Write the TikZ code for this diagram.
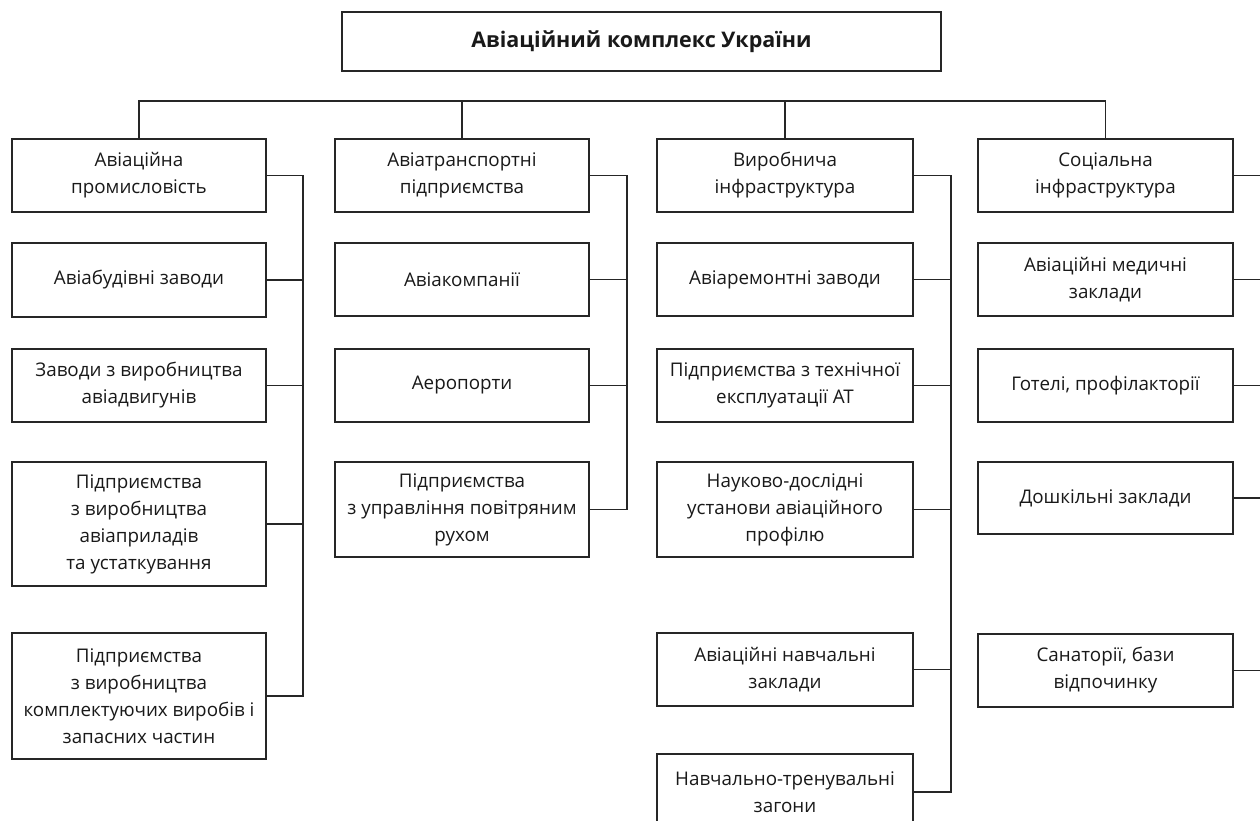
\documentclass[tikz,border=0pt]{standalone}
\usepackage{fontspec}
\setmainfont{Open Sans}
\begin{document}
\begin{tikzpicture}[x=1pt,y=-1pt,
  box/.style={draw=black!85, line width=1.2pt, fill=white, align=center, inner sep=2pt,
    font=\fontsize{18.8}{27}\selectfont, text=black!90},
  wire/.style={draw=black!85, line width=1.2pt}]
\useasboundingbox (0,0) rectangle (1260,821);
\clip (0,0) rectangle (1260,821);
% title
\node[box, minimum width=599pt, minimum height=59pt, font=\fontsize{21.5}{27}\selectfont\bfseries] (top) at (641.5,41.5) {Авіаційний комплекс України};
% column 1
\begin{scope}[every node/.append style={box, minimum width=254pt}]
\node[minimum height=73pt] (a1) at (139,175.5) {Авіаційна\\промисловість};
\node[minimum height=74pt] (a2) at (139,280) {Авіабудівні заводи};
\node[minimum height=73pt] (a3) at (139,385.5) {Заводи з виробництва\\авіадвигунів};
\node[minimum height=124pt] (a4) at (139,524) {Підприємства\\з виробництва\\авіаприладів\\та устаткування};
\node[minimum height=126pt] (a5) at (139,696) {Підприємства\\з виробництва\\комплектуючих виробів і\\запасних частин};
% column 2
\node[minimum height=73pt] (b1) at (462,175.5) {Авіатранспортні\\підприємства};
\node[minimum height=73pt] (b2) at (462,279.5) {Авіакомпанії};
\node[minimum height=73pt] (b3) at (462,385.5) {Аеропорти};
\node[minimum height=95pt] (b4) at (462,509.5) {Підприємства\\з управління повітряним\\рухом};
\end{scope}
\begin{scope}[every node/.append style={box, minimum width=256pt}]
% column 3
\node[minimum height=73pt] (c1) at (785,175.5) {Виробнича\\інфраструктура};
\node[minimum height=73pt] (c2) at (785,279.5) {Авіаремонтні заводи};
\node[minimum height=73pt] (c3) at (785,385.5) {Підприємства з технічної\\експлуатації АТ};
\node[minimum height=95pt] (c4) at (785,509.5) {Науково-дослідні\\установи авіаційного\\профілю};
\node[minimum height=73pt] (c5) at (785,669.5) {Авіаційні навчальні\\заклади};
\node[minimum height=76pt] (c6) at (785,792) {Навчально-тренувальні\\загони};
\end{scope}
\begin{scope}[every node/.append style={box, minimum width=255pt}]
% column 4
\node[minimum height=73pt] (d1) at (1105.5,175.5) {Соціальна\\інфраструктура};
\node[minimum height=73pt] (d2) at (1105.5,279.5) {Авіаційні медичні\\заклади};
\node[minimum height=73pt] (d3) at (1105.5,385.5) {Готелі, профілакторії};
\node[minimum height=72pt] (d4) at (1105.5,498) {Дошкільні заклади};
\node[minimum height=73pt] (d5) at (1105.5,670.5) {Санаторії, бази\\відпочинку};
\end{scope}
% top bus
\coordinate (bus) at (0,101);
\draw[wire] (a1.north) -- (a1.north |- bus) -- (d1.north |- bus) -- (d1.north);
\draw[wire] (b1.north) -- (b1.north |- bus);
\draw[wire] (c1.north) -- (c1.north |- bus);
% column buses
\coordinate (v1) at (303,0);
\coordinate (v2) at (627,0);
\coordinate (v3) at (951,0);
\coordinate (v4) at (1275,0);
\draw[wire] (a1.east) -- (a1.east -| v1) -- (a5.east -| v1) -- (a5.east);
\foreach \n in {a2,a3,a4} \draw[wire] (\n.east) -- (\n.east -| v1);
\draw[wire] (b1.east) -- (b1.east -| v2) -- (b4.east -| v2) -- (b4.east);
\foreach \n in {b2,b3} \draw[wire] (\n.east) -- (\n.east -| v2);
\draw[wire] (c1.east) -- (c1.east -| v3) -- (c6.east -| v3) -- (c6.east);
\foreach \n in {c2,c3,c4,c5} \draw[wire] (\n.east) -- (\n.east -| v3);
\draw[wire] (d1.east) -- (d1.east -| v4) -- (d5.east -| v4) -- (d5.east);
\foreach \n in {d2,d3,d4} \draw[wire] (\n.east) -- (\n.east -| v4);
\end{tikzpicture}
\end{document}
